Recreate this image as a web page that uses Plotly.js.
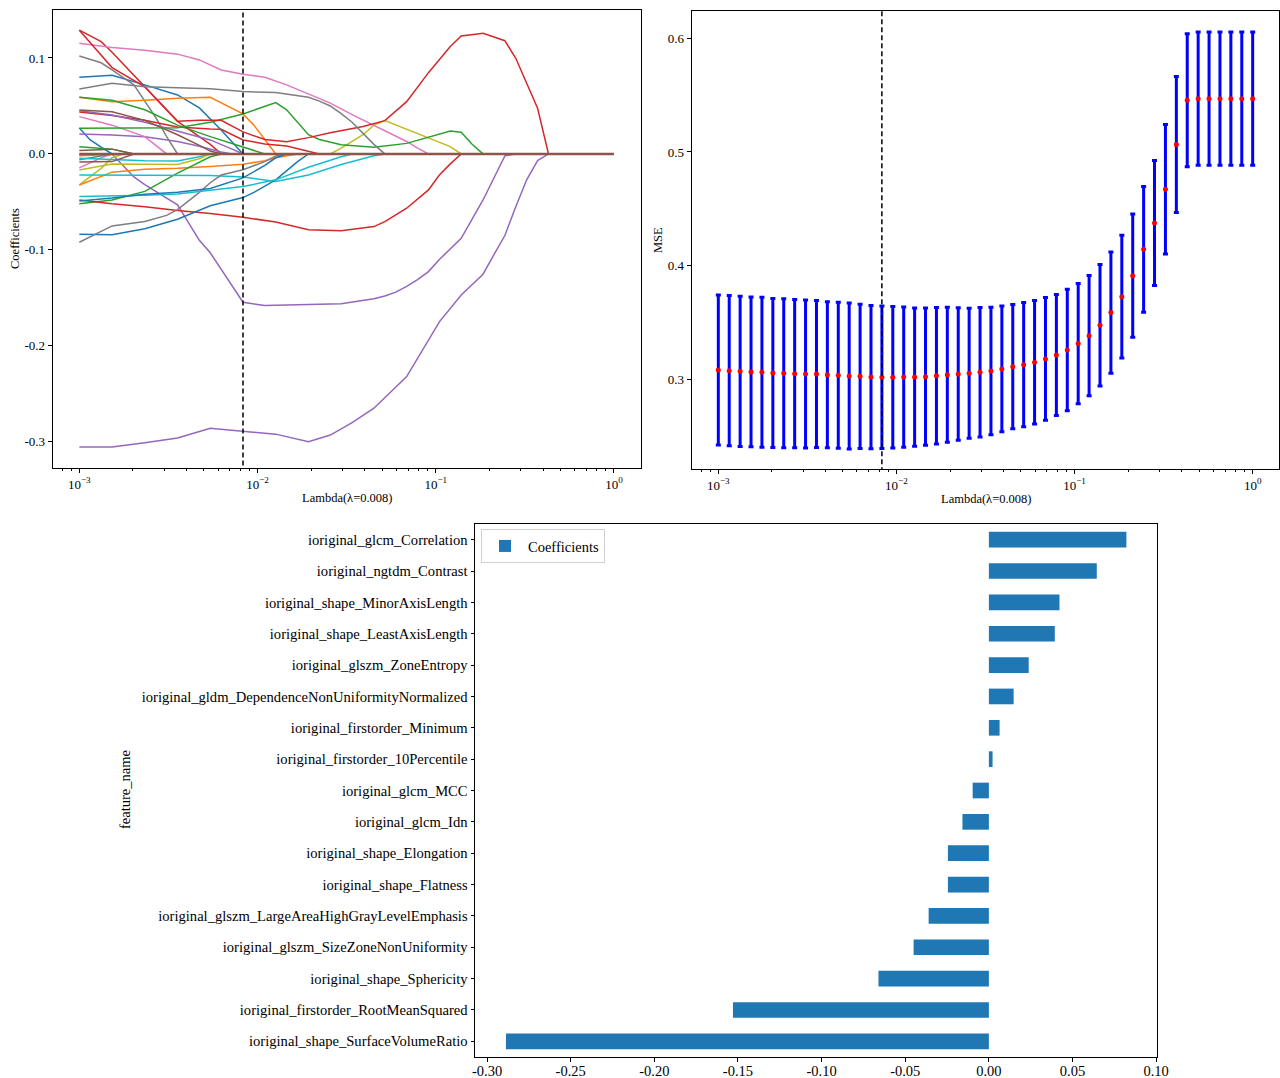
<!DOCTYPE html>
<html>
<head>
<meta charset="utf-8">
<script src="https://cdn.plot.ly/plotly-3.0.1.min.js"></script>
<style>html,body{margin:0;padding:0;background:#fff}#chart{width:1280px;height:1078px}</style>
</head>
<body>
<div id="chart"></div>
<script>
// ---------- DATA ----------
const lambdas = [0.001, 0.0011514, 0.0013257, 0.0015264, 0.0017575, 0.0020236, 0.0023300, 0.0026827, 0.0030888, 0.0035565,
  0.0040949, 0.0047149, 0.0054287, 0.0062506, 0.0071969, 0.0082864, 0.0095410, 0.0109854, 0.0126486, 0.0145635,
  0.0167683, 0.0193070, 0.0222300, 0.0255955, 0.0294705, 0.0339322, 0.0390694, 0.0449843, 0.0517947, 0.0596362,
  0.0686649, 0.0790604, 0.0910298, 0.1048113, 0.1206793, 0.1389495, 0.1599859, 0.1842070, 0.2120951, 0.2442053,
  0.2811769, 0.3237458, 0.3727594, 0.4291934, 0.4941713, 0.5689866, 0.6551286, 0.7543120, 0.8685114, 1.0];
const bestLambdaIndex = 15;

const mseMean = [0.3082, 0.3076, 0.3070, 0.3065, 0.3062, 0.3056, 0.3053, 0.3050, 0.3047, 0.3047,
  0.3041, 0.3035, 0.3029, 0.3026, 0.3020, 0.3018, 0.3018, 0.3020, 0.3020, 0.3023,
  0.3032, 0.3041, 0.3047, 0.3053, 0.3062, 0.3073, 0.3091, 0.3111, 0.3129, 0.3150,
  0.3179, 0.3214, 0.3258, 0.3314, 0.3384, 0.3475, 0.3587, 0.3727, 0.3912, 0.4144,
  0.4375, 0.4672, 0.5065, 0.5455, 0.5469, 0.5469, 0.5469, 0.5469, 0.5469, 0.5469];
const mseStd = [0.0660, 0.0661, 0.0661, 0.0658, 0.0660, 0.0655, 0.0655, 0.0651, 0.0651, 0.0647,
  0.0642, 0.0642, 0.0642, 0.0635, 0.0630, 0.0626, 0.0622, 0.0617, 0.0608, 0.0604,
  0.0600, 0.0594, 0.0582, 0.0572, 0.0569, 0.0560, 0.0553, 0.0547, 0.0547, 0.0543,
  0.0540, 0.0532, 0.0534, 0.0529, 0.0529, 0.0534, 0.0534, 0.0540, 0.0543, 0.0553,
  0.0550, 0.0569, 0.0598, 0.0585, 0.0587, 0.0587, 0.0587, 0.0587, 0.0587, 0.0587];

// coefficient paths: [lambda index, coefficient]
const pRedA = [[0,0.129],[2,0.117],[3,0.106],[6,0.070],[9,0.034],[12,0.010],[13,0],[49,0]];
const pRedB = [[0,0.129],[3,0.090],[6,0.070],[9,0.034],[11,0.035],[13,0.035],[15,0.023],[17,0.015],[19,0.0128],[21,0.017],[23,0.022],[26,0.0285],[28,0.0347],[30,0.0545],[32,0.0847],[34,0.112],[35,0.123],[37,0.1257],[39,0.118],[40,0.0997],[41,0.0736],[42,0.0476],[43,0],[49,0]];
const pRedC = [[0,0.0437],[3,0.040],[6,0.035],[9,0.028],[12,0.026],[13,0.0257],[15,0.0146],[17,0.0104],[19,0.0083],[21,0.003],[22,0],[49,0]];
const pRedNeg = [[0,-0.048],[3,-0.052],[6,-0.055],[9,-0.059],[12,-0.062],[15,-0.066],[18,-0.071],[21,-0.079],[24,-0.080],[27,-0.0757],[28,-0.0705],[30,-0.0566],[32,-0.0375],[33,-0.022],[34,-0.0104],[35,0],[49,0]];
const pPinkTop = [[0,0.1153],[3,0.111],[6,0.108],[9,0.104],[11,0.098],[13,0.0875],[15,0.083],[17,0.080],[19,0.072],[21,0.0625],[23,0.053],[25,0.041],[27,0.030],[29,0.019],[30,0.013],[31,0.006],[32,0],[49,0]];
const pPinkLow = [[0,0.0389],[3,0.030],[6,0.018],[8,0],[49,0]];
const pPinkNeg = [[0,-0.0146],[2,-0.004],[3,0],[49,0]];
const pGrayA = [[0,0.102],[2,0.095],[3,0.0875],[5,0.072],[6,0.055],[7,0.038],[8,0.018],[9,0],[49,0]];
const pGrayB = [[0,0.0677],[3,0.0736],[6,0.070],[9,0.069],[12,0.068],[15,0.065],[18,0.064],[21,0.059],[22,0.055],[23,0.05],[24,0.042],[25,0.033],[26,0.0215],[27,0.01],[28,0],[49,0]];
const pGrayNeg = [[0,-0.092],[3,-0.075],[6,-0.0705],[8,-0.064],[9,-0.058],[11,-0.04],[12,-0.03],[13,-0.022],[15,-0.0165],[17,-0.008],[18,-0.002],[19,0],[49,0]];
const pGraySmall = [[0,-0.006],[3,0],[49,0]];
const pBlueTop = [[0,0.0799],[3,0.082],[6,0.072],[9,0.0615],[11,0.048],[13,0.025],[15,0],[49,0]];
const pBlueSteep = [[0,0.027],[1,0.0146],[2,0.007],[3,0],[49,0]];
const pBlueNeg = [[0,-0.0837],[3,-0.0843],[6,-0.078],[9,-0.068],[12,-0.054],[15,-0.0455],[16,-0.04],[18,-0.027],[20,-0.008],[21,0],[49,0]];
const pBlueMid = [[0,-0.049],[3,-0.046],[6,-0.042],[9,-0.040],[12,-0.036],[15,-0.025],[17,-0.012],[18,-0.004],[19,0],[49,0]];
const pOrangeTop = [[0,0.059],[3,0.0545],[6,0.056],[9,0.058],[12,0.059],[14,0.047],[15,0.0417],[16,0.03],[17,0.015],[18,0],[49,0]];
const pOrangeNeg = [[0,-0.0323],[3,-0.019],[6,-0.016],[9,-0.015],[12,-0.013],[15,-0.0108],[17,-0.007],[18,-0.004],[20,0],[49,0]];
const pOrangeSmall = [[0,-0.002],[3,-0.001],[4,0],[49,0]];
const pGreenTop = [[0,0.059],[3,0.056],[6,0.046],[9,0.030],[12,0.018],[15,0.0076],[17,0],[49,0]];
const pGreenMid = [[0,0.0267],[3,0.027],[6,0.027],[9,0.0274],[12,0.033],[15,0.0417],[18,0.0535],[19,0.046],[21,0.020],[22,0.015],[24,0.0095],[27,0.007],[30,0.011],[33,0.021],[34,0.024],[35,0.0226],[36,0.010],[37,0],[49,0]];
const pGreenNeg = [[0,-0.052],[3,-0.048],[6,-0.039],[9,-0.020],[12,-0.003],[13,0],[49,0]];
const pGreenSmall = [[0,0.0076],[3,0.005],[5,0],[49,0]];
const pBrownTop = [[0,0.0458],[3,0.044],[6,0.035],[9,0.020],[11,0.009],[12,0.003],[13,0],[49,0]];
const pBrownSmall = [[0,0.0035],[3,0.005],[5,0],[49,0]];
const pBrownNeg = [[0,-0.0085],[3,-0.008],[5,0],[49,0]];
const pPurpleTop = [[0,0.045],[3,0.0406],[6,0.033],[9,0.024],[12,0.0146],[14,0.005],[15,0],[49,0]];
const pPurpleLow = [[0,0.0208],[3,0.0198],[6,0.018],[9,0.013],[11,0.008],[13,0.002],[14,0],[49,0]];
const pPurpleMid = [[0,0],[3,0],[4,-0.012],[5,-0.024],[6,-0.032],[8,-0.046],[9,-0.053],[11,-0.09],[12,-0.103],[15,-0.1545],[17,-0.158],[21,-0.157],[24,-0.156],[27,-0.151],[28,-0.148],[29,-0.144],[30,-0.138],[31,-0.131],[32,-0.1226],[33,-0.110],[35,-0.088],[37,-0.048],[39,-0.002],[40,0],[49,0]];
const pPurpleBot = [[0,-0.3055],[3,-0.3055],[6,-0.301],[9,-0.296],[12,-0.286],[15,-0.289],[18,-0.292],[21,-0.300],[23,-0.293],[25,-0.280],[27,-0.265],[30,-0.232],[32,-0.194],[33,-0.175],[35,-0.147],[37,-0.1253],[38,-0.105],[39,-0.085],[40,-0.055],[41,-0.027],[42,-0.007],[43,0],[49,0]];
const pOliveA = [[0,-0.0167],[3,-0.0105],[6,-0.0107],[9,-0.011],[11,-0.005],[12,0],[23,0],[24,0.006],[26,0.020],[27,0.030],[28,0.0347],[31,0.0208],[34,0.0076],[35,0],[49,0]];
const pOliveB = [[0,-0.0323],[2,-0.015],[3,-0.004],[4,0],[49,0]];
const pCyan1 = [[0,-0.022],[3,-0.022],[6,-0.022],[9,-0.022],[12,-0.0225],[15,-0.024],[18,-0.0288],[21,-0.022],[24,-0.011],[27,-0.002],[28,0],[49,0]];
const pCyan2 = [[0,-0.0444],[3,-0.044],[6,-0.043],[9,-0.0417],[12,-0.038],[15,-0.034],[18,-0.027],[21,-0.0139],[24,-0.003],[25,0],[49,0]];
const pCyan3 = [[0,-0.0045],[3,-0.006],[6,-0.007],[9,-0.0073],[11,-0.003],[12,0],[49,0]];
const pBrownZero = [[0,0],[49,0]];

const featureNames = [
  'ioriginal_shape_SurfaceVolumeRatio',
  'ioriginal_firstorder_RootMeanSquared',
  'ioriginal_shape_Sphericity',
  'ioriginal_glszm_SizeZoneNonUniformity',
  'ioriginal_glszm_LargeAreaHighGrayLevelEmphasis',
  'ioriginal_shape_Flatness',
  'ioriginal_shape_Elongation',
  'ioriginal_glcm_Idn',
  'ioriginal_glcm_MCC',
  'ioriginal_firstorder_10Percentile',
  'ioriginal_firstorder_Minimum',
  'ioriginal_gldm_DependenceNonUniformityNormalized',
  'ioriginal_glszm_ZoneEntropy',
  'ioriginal_shape_LeastAxisLength',
  'ioriginal_shape_MinorAxisLength',
  'ioriginal_ngtdm_Contrast',
  'ioriginal_glcm_Correlation'
];
const featureCoefs = [-0.2887, -0.153, -0.066, -0.045, -0.036, -0.0245, -0.0245, -0.0158, -0.0097,
  0.0022, 0.0064, 0.0148, 0.0238, 0.0394, 0.0422, 0.0645, 0.0822];

const logTickVals = [0.001, 0.01, 0.1, 1];
const logTickText = ['10<sup>−3</sup>', '10<sup>−2</sup>', '10<sup>−1</sup>', '10<sup>0</sup>'];
const logMinorVals = [0.0008, 0.0009, 0.002, 0.003, 0.004, 0.005, 0.006, 0.007, 0.008, 0.009,
  0.02, 0.03, 0.04, 0.05, 0.06, 0.07, 0.08, 0.09, 0.2, 0.3, 0.4, 0.5, 0.6, 0.7, 0.8, 0.9];
const coefTickVals = [0.1, 0.0, -0.1, -0.2, -0.3];
const coefTickText = ['0.1', '0.0', '-0.1', '-0.2', '-0.3'];
const mseTickVals = [0.3, 0.4, 0.5, 0.6];
const mseTickText = ['0.3', '0.4', '0.5', '0.6'];
const barTickVals = [-0.30, -0.25, -0.20, -0.15, -0.10, -0.05, 0.00, 0.05, 0.10];
const barTickText = ['-0.30', '-0.25', '-0.20', '-0.15', '-0.10', '-0.05', '0.00', '0.05', '0.10'];

// ---------- STYLE ----------
const C = {blue:'#1f77b4', orange:'#ff7f0e', green:'#2ca02c', red:'#d62728', purple:'#9467bd',
  brown:'#8c564b', pink:'#e377c2', gray:'#7f7f7f', olive:'#bcbd22', cyan:'#17becf'};
const pathList = [
  [pBlueSteep, C.blue], [pOrangeSmall, C.orange], [pGreenSmall, C.green], [pRedA, C.red], [pPurpleMid, C.purple],
  [pBrownSmall, C.brown], [pPinkNeg, C.pink], [pGraySmall, C.gray], [pOliveB, C.olive], [pCyan3, C.cyan],
  [pBlueTop, C.blue], [pOrangeNeg, C.orange], [pGreenNeg, C.green], [pRedNeg, C.red], [pPurpleLow, C.purple],
  [pBrownNeg, C.brown], [pPinkLow, C.pink], [pGrayA, C.gray], [pOliveA, C.olive], [pCyan1, C.cyan],
  [pBlueNeg, C.blue], [pOrangeTop, C.orange], [pGreenTop, C.green], [pRedC, C.red], [pPurpleTop, C.purple],
  [pBrownTop, C.brown], [pPinkTop, C.pink], [pGrayNeg, C.gray], [pCyan2, C.cyan],
  [pBlueMid, C.blue], [pGreenMid, C.green], [pRedB, C.red], [pPurpleBot, C.purple], [pGrayB, C.gray],
  [pBrownZero, C.brown]
];

const FONT = '"Liberation Serif", "Times New Roman", Times, serif';
const W = 1280, H = 1078;
const px = v => v / W;
const py = v => 1 - v / H;

const traces = [];
pathList.forEach(([p, col], i) => {
  traces.push({
    type: 'scatter', mode: 'lines', xaxis: 'x', yaxis: 'y', showlegend: false, hoverinfo: 'skip',
    x: p.map(d => lambdas[d[0]]), y: p.map(d => d[1]),
    line: {color: col, width: (i === pathList.length - 1) ? 2.6 : 1.5}
  });
});
// dashed best-lambda line, left panel
traces.push({type:'scatter', mode:'lines', xaxis:'x', yaxis:'y', showlegend:false, hoverinfo:'skip',
  x:[lambdas[bestLambdaIndex], lambdas[bestLambdaIndex]], y:[-1, 1],
  line:{color:'black', width:1.5, dash:'5px,3px'}});

// MSE error bars
traces.push({type:'scatter', mode:'markers', xaxis:'x2', yaxis:'y2', showlegend:false,
  x: lambdas, y: mseMean,
  marker:{color:'red', size:5},
  error_y:{type:'data', array: mseStd, visible:true, color:'blue', thickness:3, width:2.5}});
traces.push({type:'scatter', mode:'lines', xaxis:'x2', yaxis:'y2', showlegend:false, hoverinfo:'skip',
  x:[lambdas[bestLambdaIndex], lambdas[bestLambdaIndex]], y:[0, 1],
  line:{color:'black', width:1.5, dash:'5px,3px'}});

// bar chart
traces.push({type:'bar', orientation:'h', xaxis:'x3', yaxis:'y3', name:'Coefficients', showlegend:true,
  x: featureCoefs, y: featureNames, width:0.5, marker:{color:C.blue, line:{width:0}}});

const axBase = {showline:true, linecolor:'black', linewidth:1, mirror:true, ticks:'outside', ticklen:4,
  tickcolor:'black', tickwidth:1, showgrid:false, zeroline:false,
  tickfont:{family:FONT, size:13, color:'black'}};

const logAx = (dom) => Object.assign({}, axBase, {
  type:'log', domain:dom, range:[-3.15, 0.15], tickmode:'array', tickvals:logTickVals, ticktext:logTickText,
  minor:{tickmode:'array', tickvals:logMinorVals, ticks:'outside', ticklen:2, tickcolor:'black', showgrid:false}
});

const layout = {
  width: W, height: H, margin:{l:0, r:0, t:0, b:0}, paper_bgcolor:'white', plot_bgcolor:'white',
  font:{family:FONT, color:'black'},
  xaxis: Object.assign(logAx([px(52.6), px(640.7)]), {anchor:'y'}),
  yaxis: Object.assign({}, axBase, {anchor:'x', domain:[py(468), py(10)], range:[-0.3273, 0.15],
    tickmode:'array', tickvals:coefTickVals, ticktext:coefTickText}),
  xaxis2: Object.assign(logAx([px(691.6), px(1279.4)]), {anchor:'y2'}),
  yaxis2: Object.assign({}, axBase, {anchor:'x2', domain:[py(469), py(11)], range:[0.2211, 0.624],
    tickmode:'array', tickvals:mseTickVals, ticktext:mseTickText}),
  xaxis3: Object.assign({}, axBase, {anchor:'y3', domain:[px(475), px(1157)], range:[-0.3072, 0.1005],
    tickmode:'array', tickvals:barTickVals, ticktext:barTickText, ticklen:3.5, ticklabelstandoff:-3,
    tickfont:{family:FONT, size:14.5, color:'black'}}),
  yaxis3: Object.assign({}, axBase, {anchor:'x3', domain:[py(1057), py(524)], type:'category',
    range:[-0.5, 16.5], ticklen:3.5, tickfont:{family:FONT, size:14.6, color:'black'}}),
  bargap: 0.5,
  showlegend: true,
  legend:{x:px(481), y:py(529), xanchor:'left', yanchor:'top', bgcolor:'rgba(255,255,255,0.8)',
    bordercolor:'#d0d0d0', borderwidth:1, itemwidth:36, font:{family:FONT, size:14.5, color:'black'}},
  annotations: [
    {text:'Coefficients', x:px(15), y:py(239), xref:'paper', yref:'paper', showarrow:false, textangle:-90,
      xanchor:'center', yanchor:'middle', font:{family:FONT, size:12.5}},
    {text:'Lambda(λ=0.008)', x:px(347), y:py(498), xref:'paper', yref:'paper', showarrow:false,
      xanchor:'center', yanchor:'middle', font:{family:FONT, size:12.5}},
    {text:'MSE', x:px(658), y:py(240), xref:'paper', yref:'paper', showarrow:false, textangle:-90,
      xanchor:'center', yanchor:'middle', font:{family:FONT, size:12.5}},
    {text:'Lambda(λ=0.008)', x:px(986), y:py(499), xref:'paper', yref:'paper', showarrow:false,
      xanchor:'center', yanchor:'middle', font:{family:FONT, size:12.5}},
    {text:'feature_name', x:px(125), y:py(790), xref:'paper', yref:'paper', showarrow:false, textangle:-90,
      xanchor:'center', yanchor:'middle', font:{family:FONT, size:14.5}}
  ]
};

Plotly.newPlot('chart', traces, layout, {displayModeBar:false, staticPlot:true});
</script>
</body>
</html>
